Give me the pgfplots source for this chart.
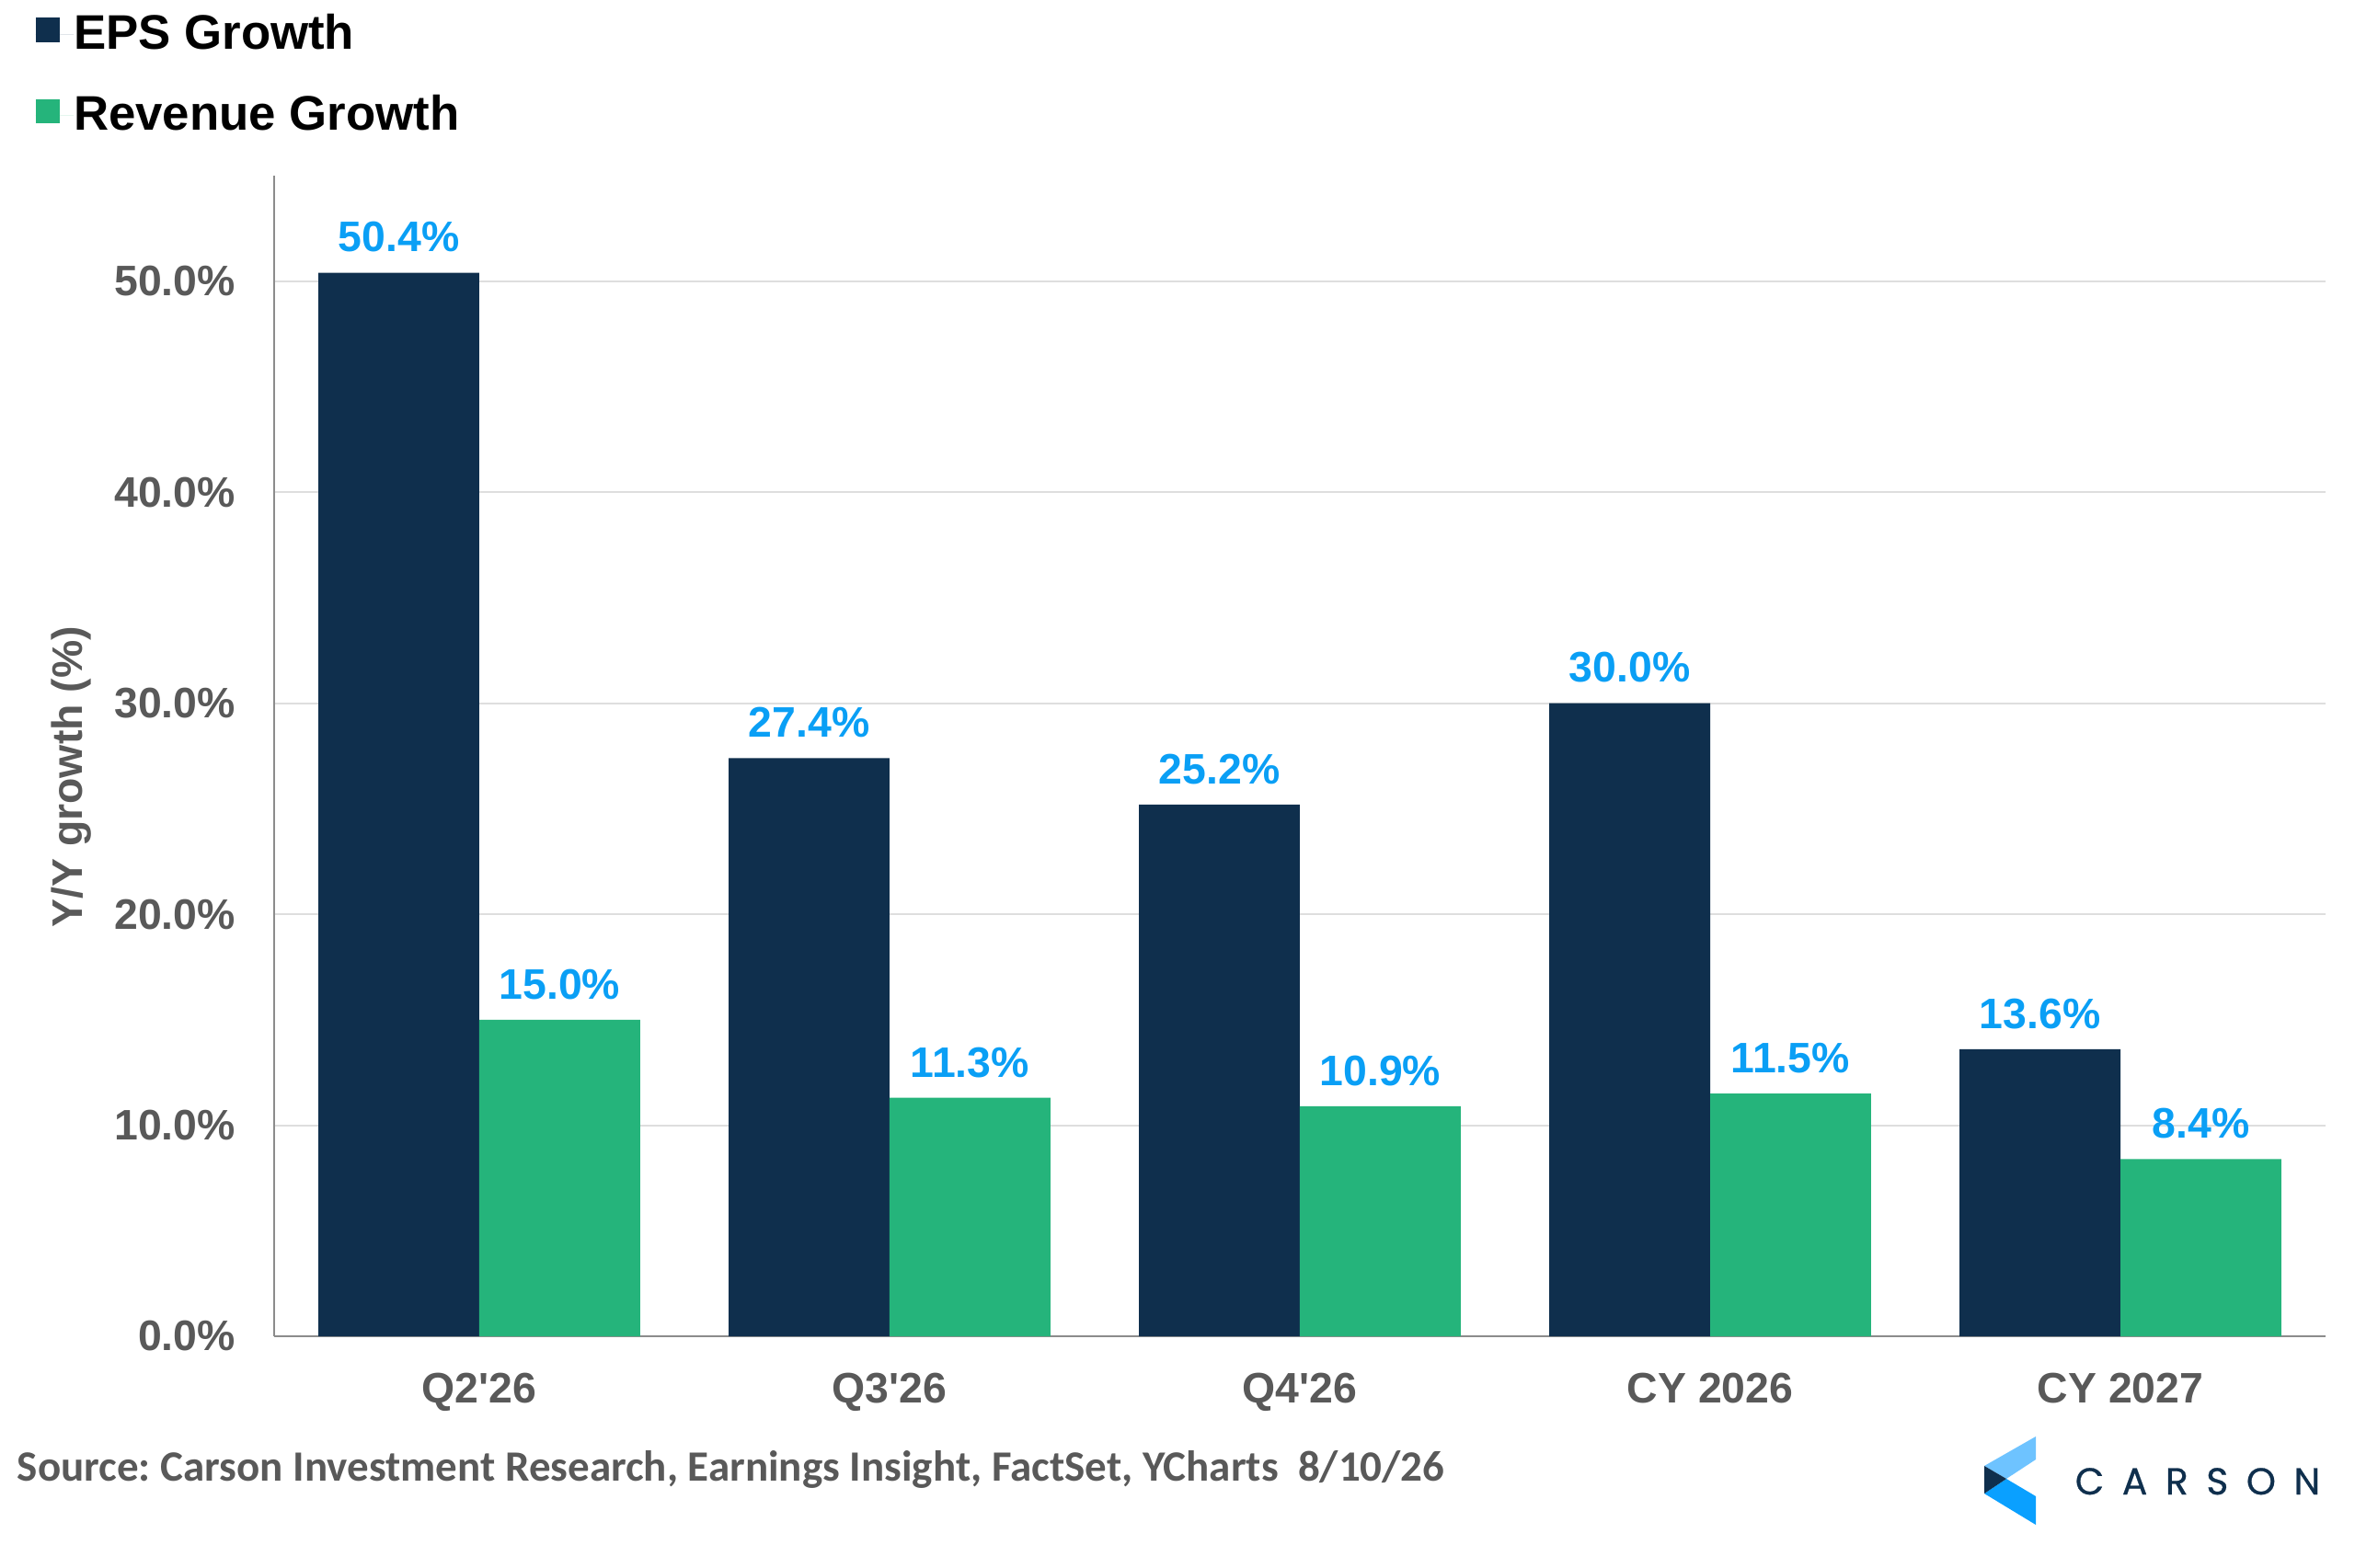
\documentclass[border=0pt]{standalone}
\usepackage{fontspec}
\setmainfont{Liberation Sans}
\newfontfamily\carlito{Carlito}
\newfontfamily\poppins[LetterSpace=48, FakeBold=0.6]{Poppins}
\usepackage{pgfplots}
\pgfplotsset{compat=1.18}
\definecolor{eps}{HTML}{0F2F4D}
\definecolor{rev}{HTML}{25B47B}
\definecolor{lbl}{HTML}{0A9FF5}
\definecolor{txt}{HTML}{595959}
\definecolor{gridc}{HTML}{DEDEDE}
\definecolor{axc}{HTML}{8C8C8C}
\definecolor{logolight}{HTML}{6EC3FF}
\definecolor{logoblue}{HTML}{0AA0FF}
\begin{document}
\frenchspacing
\begin{tikzpicture}
\useasboundingbox (-74.5pt,-62.75pt) rectangle (565.5pt,363.25pt);
\begin{axis}[
  scale only axis, width=557.5pt, height=315.5pt,
  xmin=-0.5, xmax=4.5, ymin=0, ymax=55,
  axis x line*=bottom, axis y line*=left,
  axis line style={color=axc, line width=0.6pt},
  major tick length=0pt,
  ymajorgrids, grid style={color=gridc, line width=0.5pt},
  ytick={0,10,20,30,40,50},
  yticklabels={0.0\%,10.0\%,20.0\%,30.0\%,40.0\%,50.0\%},
  xtick={0,1,2,3,4},
  xticklabels={Q2\textquotesingle26,Q3\textquotesingle26,Q4\textquotesingle26,CY 2026,CY 2027},
  tick label style={font=\fontsize{11.6}{13}\selectfont\bfseries, text=txt},
  yticklabel style={xshift=-7pt},
  xticklabel style={yshift=-6.5pt},
  ylabel={Y/Y growth (\%)},
  ylabel style={font=\fontsize{11.6}{13}\selectfont\bfseries, text=txt, at={(axis description cs:-0.0988,0.482)}, anchor=center},
  /pgf/number format/assume math mode=true,
  ybar, bar width=0.392,
  nodes near coords={\pgfmathprintnumber[fixed,fixed zerofill,precision=1]{\pgfplotspointmeta}\%},
  nodes near coords style={font=\fontsize{11.6}{13}\selectfont\bfseries, text=lbl, yshift=2pt},
  legend style={at={(axis description cs:-0.1221,1.1463)}, anchor=north west, draw=none, fill=none,
    font=\fontsize{13.2}{15}\selectfont\bfseries, text=black, nodes={inner sep=0pt}, row sep=11pt},
  legend cell align=left,
  legend image code/.code={\fill[#1,draw=none] (0pt,-2.1pt) rectangle (6.6pt,4.5pt); \path (0pt,0pt) -- (10.4pt,0pt);},
]
\addplot[fill=eps, draw=none, bar shift=-0.196] coordinates {(0,50.4) (1,27.4) (2,25.2) (3,30.0) (4,13.6)};
\addplot[fill=rev, draw=none, bar shift=0.196] coordinates {(0,15.0) (1,11.3) (2,10.9) (3,11.5) (4,8.4)};
\legend{EPS Growth, Revenue Growth}
\end{axis}
\node[anchor=base west, inner sep=0pt, font=\carlito\fontsize{11.75}{13}\selectfont\bfseries, text=txt] at (-70pt,-39.25pt)
  {Source: Carson Investment Research, Earnings Insight, FactSet, YCharts\ \ 8/10/26};
% logo
\fill[logolight] (464.75pt,-35.25pt) -- (478.75pt,-27.25pt) -- (478.75pt,-33.5pt) -- (470.75pt,-38.75pt) -- cycle;
\fill[logoblue] (464.75pt,-42.75pt) -- (470.75pt,-38.75pt) -- (478.75pt,-43.5pt) -- (478.75pt,-51.25pt) -- cycle;
\fill[eps] (464.75pt,-35.25pt) -- (470.75pt,-38.75pt) -- (464.75pt,-42.75pt) -- cycle;
\node[anchor=base west, inner sep=0pt, font=\poppins\fontsize{10.2}{12}\selectfont, text=eps] at (489.25pt,-43pt) {CARSON};
\end{tikzpicture}
\end{document}
